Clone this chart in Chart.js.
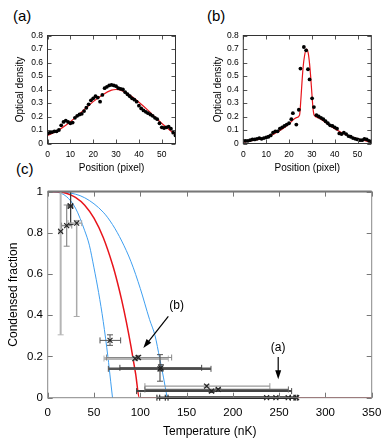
<!DOCTYPE html>
<html lang="en">
<head>
<meta charset="UTF-8">
<script src="https://cdn.jsdelivr.net/npm/chart.js"></script>
<style>
    body { margin: 0; background: #fff; width: 392px; height: 441px; overflow: hidden; position: relative; font-family: "Liberation Sans", Arial, sans-serif; }
    canvas { position: absolute; }
    .rotulo { position: absolute; font-size: 15px; line-height: 15px; color: #000; }
</style>
</head>
<body>
    <div class="rotulo" style="left:13px; top:8px;">(a)</div>
    <div class="rotulo" style="left:207px; top:8px;">(b)</div>
    <div class="rotulo" style="left:16px; top:161px;">(c)</div>
    <canvas id="graficoA" width="190" height="180" style="left:0; top:0;"></canvas>
    <canvas id="graficoB" width="190" height="180" style="left:196px; top:0;"></canvas>
    <canvas id="graficoC" width="392" height="261" style="left:0; top:180px;"></canvas>

<script>
    // perfil (a)
    var posA = [0,1,2,3,4,5,6,7,8,9,10,11,12,13,14,15,16,17,18,19,20,21,22,23,24,25,26,27,28,29,30,31,32,33,34,35,36,37,38,39,40,41,42,43,44,45,46,47,48,49,50,51,52,53,54,55,56]
    var odA = [0.075,0.08,0.085,0.09,0.09,0.10,0.135,0.16,0.17,0.16,0.15,0.155,0.19,0.205,0.215,0.22,0.24,0.265,0.29,0.32,0.335,0.35,0.34,0.31,0.36,0.41,0.42,0.43,0.435,0.43,0.425,0.41,0.405,0.40,0.38,0.365,0.35,0.335,0.325,0.31,0.28,0.26,0.245,0.235,0.225,0.215,0.205,0.19,0.18,0.15,0.12,0.115,0.12,0.125,0.11,0.08,0.06]
    var fitPosA = [0,4,8,12,16,20,24,28,30,32,36,40,44,48,52,56]
    var fitA = [0.06,0.09,0.135,0.19,0.25,0.31,0.36,0.395,0.40,0.395,0.36,0.305,0.245,0.18,0.12,0.065]

    // perfil (b)
    var posB = [0,1,2,3,4,5,6,7,8,9,10,11,12,13,14,15,16,17,18,19,20,21,21.7,23.2,24.3,25,26.5,27.5,28.3,29,30.1,30.9,32,33,34,35,36,37,38,39,40,41,42,43,44,45,46,47,48,49,50,51,52,53,54,55,56]
    var odB = [0.02,0.02,0.02,0.025,0.03,0.03,0.035,0.04,0.035,0.04,0.045,0.05,0.06,0.08,0.09,0.09,0.11,0.12,0.13,0.14,0.15,0.18,0.225,0.14,0.25,0.555,0.715,0.69,0.55,0.475,0.335,0.27,0.21,0.20,0.19,0.18,0.165,0.15,0.135,0.13,0.12,0.11,0.075,0.07,0.08,0.07,0.055,0.05,0.04,0.035,0.03,0.025,0.025,0.035,0.03,0.02,0.015]
    var fitPosB = [0,5,10,15,20,23,24.6,25.2,25.7,26.2,26.8,27.6,28.4,29,29.5,30,30.5,31,33,36,40,45,50,56]
    var fitB = [0.01,0.025,0.045,0.085,0.145,0.19,0.21,0.33,0.46,0.57,0.65,0.70,0.67,0.59,0.49,0.37,0.26,0.21,0.19,0.155,0.11,0.065,0.035,0.01]

    var ticksPosicao = [0,10,20,30,40,50]
    var ticksDensidade = [0,0.1,0.2,0.3,0.4,0.5,0.6,0.7,0.8]

    // (c) fração condensada
    var tempAzulBaixo = [0,10,20,30,40,45,50,55,60,65,68,70]
    var fracAzulBaixo = [1,0.997,0.977,0.92,0.81,0.74,0.63,0.51,0.37,0.2,0.08,0]
    var tempVermelho = [0,10,20,30,40,50,60,70,75,80,85,90,95,99,350]
    var fracVermelho = [1,0.999,0.992,0.972,0.934,0.871,0.777,0.646,0.565,0.472,0.367,0.248,0.116,0,0]
    var tempAzulAlto = [0,20,40,60,70,80,90,100,110,116,121,125,129]
    var fracAzulAlto = [1,0.996,0.97,0.9,0.84,0.76,0.66,0.53,0.38,0.3,0.19,0.1,0]

    var tempC = [14,20.5,24.8,31.3,67.3,94.3,97.9,121.3,122.3,171.7,177,184.2,236.5,246.5,259.8,268.9]
    var fracC = [0.807,0.835,0.93,0.847,0.278,0.19,0.195,0.14,0.145,0.056,0.032,0.04,0,0,0,0]
    var tempMin = [12,15,22,22,56.5,60.8,63.5,65.5,78,105,96,105,121,118,127,130]
    var tempMax = [16,26,27,36.7,78.8,130.3,133.9,176.4,166.3,240,263.5,260,262,268,270,266]
    var fracMin = [0.305,0.735,0.84,0.394,0.254,0.18,0.185,0.08,0.13,0.05,0.025,0.035,0,0,0,0]
    var fracMax = [1.0,0.935,1.0,0.86,0.305,0.2,0.205,0.209,0.16,0.062,0.04,0.045,0,0,0,0]

    var ticksTemp = [0,50,100,150,200,250,300,350]
    var ticksFrac = [0,0.2,0.4,0.6,0.8,1]

    // estilo das barras de erro
    var corBarra = ['#b5b5b5','#8a8a8a','#333','#aaa','#555','#b5b5b5','#888','#555','#444','#999','#444','#666','#111','#111','#111','#111']
    var larguraBarra = [2.5,1.5,1.2,1.5,1,3,1.2,2.5,1.2,1.2,2,1.2,2,2,2,2]
    var larguraVertical = [2,1.2,1.2,1.5,1,1,1,1.2,1,1,1,1,1,1,1,1]

    Chart.defaults.font.family = '"Liberation Sans", Arial, sans-serif'
    Chart.defaults.color = '#000'

    function pares(xs, ys) {
        return xs.map(function (x, i) { return { x: x, y: ys[i] } })
    }
    function fixarTicks(valores) {
        return function (scale) { scale.ticks = valores.map(function (v) { return { value: v } }) }
    }
    function rotuloNum(v) { return String(Math.round(v * 100) / 100) }

    // moldura com ticks para dentro
    var moldura = {
        id: 'moldura',
        afterDraw: function (chart, args, opts) {
            var ctx = chart.ctx, a = chart.chartArea, x = chart.scales.x, y = chart.scales.y
            var L = opts.tickLen
            ctx.save()
            ctx.strokeStyle = opts.tickColor
            ctx.lineWidth = 1
            ctx.beginPath()
            x.ticks.forEach(function (t) {
                var px = Math.round(x.getPixelForValue(t.value)) + 0.5
                ctx.moveTo(px, a.bottom); ctx.lineTo(px, a.bottom - L)
                ctx.moveTo(px, a.top); ctx.lineTo(px, a.top + L)
            })
            y.ticks.forEach(function (t) {
                var py = Math.round(y.getPixelForValue(t.value)) + 0.5
                ctx.moveTo(a.left, py); ctx.lineTo(a.left + L, py)
                ctx.moveTo(a.right, py); ctx.lineTo(a.right - L, py)
            })
            ctx.stroke()
            ctx.strokeStyle = opts.color
            ctx.lineWidth = 1
            ctx.strokeRect(a.left, a.top, a.right - a.left, a.bottom - a.top)
            if (opts.topWidth) {
                ctx.lineWidth = opts.topWidth
                ctx.strokeStyle = opts.topColor
                ctx.beginPath(); ctx.moveTo(a.left, a.top); ctx.lineTo(a.right, a.top); ctx.stroke()
            }
            ctx.restore()
        }
    }

    function graficoPerfil(id, pos, od, fitPos, fit, yLeft, tituloPad, padRight) {
        return new Chart(document.getElementById(id), {
            type: 'scatter',
            data: {
                datasets: [{
                    data: pares(pos, od),
                    pointRadius: 1.9,
                    pointBackgroundColor: '#000',
                    pointBorderWidth: 0,
                    showLine: false
                }, {
                    data: pares(fitPos, fit),
                    showLine: true,
                    borderColor: '#e8141b',
                    borderWidth: 1.2,
                    pointRadius: 0,
                    cubicInterpolationMode: 'monotone'
                }]
            },
            options: {
                responsive: false,
                animation: false,
                events: [],
                layout: { padding: { top: 35.5, right: padRight, left: 0, bottom: 0 } },
                plugins: {
                    legend: { display: false },
                    tooltip: { enabled: false },
                    moldura: { tickLen: 4, tickColor: '#555', color: '#333' }
                },
                scales: {
                    x: {
                        min: 0, max: 56,
                        afterBuildTicks: fixarTicks(ticksPosicao),
                        afterFit: function (s) { s.height = 36.5 },
                        grid: { display: false, drawTicks: false },
                        border: { display: false },
                        ticks: { padding: 6.4, font: { size: 8.5 }, callback: rotuloNum, maxRotation: 0 },
                        title: { display: true, text: 'Position (pixel)', font: { size: 10 }, padding: { top: 0, bottom: 6 } }
                    },
                    y: {
                        min: 0, max: 0.8,
                        afterBuildTicks: fixarTicks(ticksDensidade),
                        afterFit: function (s) { s.width = yLeft },
                        grid: { display: false, drawTicks: false },
                        border: { display: false },
                        ticks: { padding: 4.5, font: { size: 8.5 }, callback: rotuloNum },
                        title: { display: true, text: 'Optical density', font: { size: 10 }, padding: { top: tituloPad, bottom: 0 } }
                    }
                }
            },
            plugins: [moldura]
        })
    }

    var graphA = graficoPerfil('graficoA', posA, odA, fitPosA, fitA, 47.5, 14.7, 14.5)
    var graphB = graficoPerfil('graficoB', posB, odB, fitPosB, fitB, 47.3, 16.3, 14.7)

    // barras de erro desenhadas antes dos marcadores
    var barrasErro = {
        id: 'barrasErro',
        beforeDatasetDraw: function (chart, args) {
            if (args.index !== 0) return
            var ctx = chart.ctx, x = chart.scales.x, y = chart.scales.y
            ctx.save()
            tempC.forEach(function (t, i) {
                var cx = x.getPixelForValue(t), cy = y.getPixelForValue(fracC[i])
                var x0 = x.getPixelForValue(tempMin[i]), x1 = x.getPixelForValue(tempMax[i])
                var y0 = y.getPixelForValue(fracMin[i]), y1 = y.getPixelForValue(fracMax[i])
                ctx.strokeStyle = corBarra[i]
                ctx.lineWidth = larguraBarra[i]
                ctx.beginPath()
                ctx.moveTo(x0, cy); ctx.lineTo(x1, cy)
                ctx.stroke()
                ctx.lineWidth = larguraVertical[i]
                if (y0 !== y1) {
                    ctx.beginPath(); ctx.moveTo(cx, y0); ctx.lineTo(cx, y1); ctx.stroke()
                }
                ctx.lineWidth = 1
                ctx.beginPath()
                ctx.moveTo(x0, cy - 3); ctx.lineTo(x0, cy + 3)
                ctx.moveTo(x1, cy - 3); ctx.lineTo(x1, cy + 3)
                if (y0 !== y1) {
                    ctx.moveTo(cx - 3, y0); ctx.lineTo(cx + 3, y0)
                    ctx.moveTo(cx - 3, y1); ctx.lineTo(cx + 3, y1)
                }
                ctx.stroke()
            })
            ctx.restore()
        }
    }

    // setas e textos (a) e (b)
    var anotacoes = [
        { texto: '(b)', t: 139.3, f: 0.446, de: [130.3, 0.395], ate: [103.3, 0.241] },
        { texto: '(a)', t: 249, f: 0.245, de: [249, 0.198], ate: [249, 0.089] }
    ]
    var setas = {
        id: 'setas',
        afterDraw: function (chart) {
            var ctx = chart.ctx, x = chart.scales.x, y = chart.scales.y
            ctx.save()
            ctx.fillStyle = '#000'
            ctx.strokeStyle = '#000'
            ctx.font = '12px "Liberation Sans", Arial, sans-serif'
            ctx.textAlign = 'center'
            ctx.textBaseline = 'middle'
            anotacoes.forEach(function (an) {
                ctx.fillText(an.texto, x.getPixelForValue(an.t), y.getPixelForValue(an.f))
                var ax = x.getPixelForValue(an.de[0]), ay = y.getPixelForValue(an.de[1])
                var bx = x.getPixelForValue(an.ate[0]), by = y.getPixelForValue(an.ate[1])
                var ang = Math.atan2(by - ay, bx - ax)
                ctx.lineWidth = 1.2
                ctx.beginPath(); ctx.moveTo(ax, ay)
                ctx.lineTo(bx - 6 * Math.cos(ang), by - 6 * Math.sin(ang)); ctx.stroke()
                ctx.beginPath()
                ctx.moveTo(bx, by)
                ctx.lineTo(bx - 9 * Math.cos(ang) + 3 * Math.sin(ang), by - 9 * Math.sin(ang) - 3 * Math.cos(ang))
                ctx.lineTo(bx - 9 * Math.cos(ang) - 3 * Math.sin(ang), by - 9 * Math.sin(ang) + 3 * Math.cos(ang))
                ctx.closePath(); ctx.fill()
            })
            ctx.restore()
        }
    }

    var graphC = new Chart(document.getElementById('graficoC'), {
        type: 'scatter',
        data: {
            datasets: [{
                data: pares(tempC, fracC),
                pointStyle: 'crossRot',
                pointRadius: 3.5,
                pointBorderColor: '#222',
                pointBorderWidth: 1.2,
                showLine: false,
                clip: false
            }, {
                data: pares(tempVermelho, fracVermelho),
                showLine: true, borderColor: '#e8141b', borderWidth: 1.5, pointRadius: 0,
                cubicInterpolationMode: 'monotone'
            }, {
                data: pares(tempAzulBaixo, fracAzulBaixo),
                showLine: true, borderColor: '#3f9ff0', borderWidth: 1, pointRadius: 0,
                cubicInterpolationMode: 'monotone'
            }, {
                data: pares(tempAzulAlto, fracAzulAlto),
                showLine: true, borderColor: '#3f9ff0', borderWidth: 1, pointRadius: 0,
                cubicInterpolationMode: 'monotone'
            }]
        },
        options: {
            responsive: false,
            animation: false,
            events: [],
            layout: { padding: { top: 10, right: 20.3, left: 0, bottom: 0 } },
            plugins: {
                legend: { display: false },
                tooltip: { enabled: false },
                moldura: { tickLen: 5, tickColor: '#777', color: '#888', topWidth: 2, topColor: '#777' }
            },
            scales: {
                x: {
                    min: 0, max: 350,
                    afterBuildTicks: fixarTicks(ticksTemp),
                    afterFit: function (s) { s.height = 43.3 },
                    grid: { display: false, drawTicks: false },
                    border: { display: false },
                    ticks: { padding: 8.5, font: { size: 11.5 }, callback: rotuloNum, maxRotation: 0 },
                    title: { display: true, text: 'Temperature (nK)', font: { size: 12 }, padding: { top: 0, bottom: 1.8 } }
                },
                y: {
                    min: 0, max: 1,
                    afterBuildTicks: fixarTicks(ticksFrac),
                    afterFit: function (s) { s.width = 47.7 },
                    grid: { display: false, drawTicks: false },
                    border: { display: false },
                    ticks: { padding: 4.7, font: { size: 11.5 }, callback: rotuloNum },
                    title: { display: true, text: 'Condensed fraction', font: { size: 12 }, padding: { top: 6.1, bottom: 0 } }
                }
            }
        },
        plugins: [moldura, barrasErro, setas]
    })
</script>
</body>
</html>
